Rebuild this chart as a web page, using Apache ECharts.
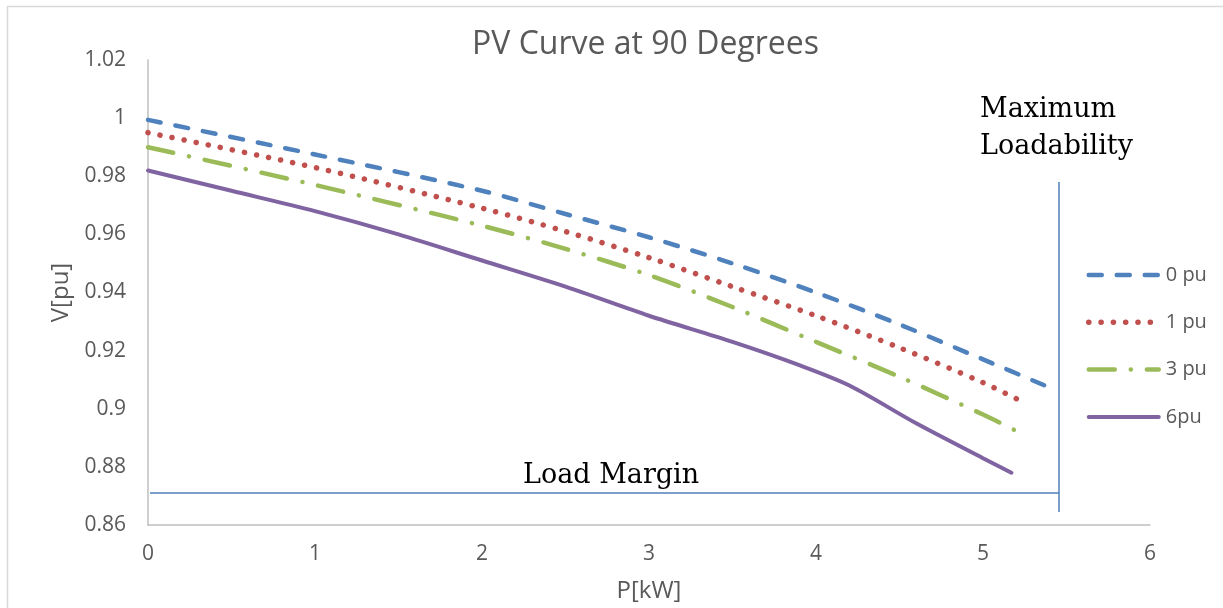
<!DOCTYPE html>
<html>
<head>
<meta charset="utf-8">
<script src="https://cdn.jsdelivr.net/npm/echarts@6/dist/echarts.min.js"></script>
<style>
html,body{margin:0;padding:0;background:#fff;}
#chart{width:1223px;height:608px;}
</style>
</head>
<body>
<div id="chart"></div>
<script>
// ---- data ----
const seriesNames = ['0 pu', '1 pu', '3 pu', '6pu'];

const x0 = [0, 1, 2, 2.5, 3, 3.5, 4, 4.5, 5, 5.37];
const v0 = [0.9994, 0.9875, 0.975, 0.967, 0.959, 0.950, 0.940, 0.929, 0.917, 0.908];

const x1 = [0, 1, 2, 2.5, 3, 3.5, 4, 4.5, 5, 5.25];
const v1 = [0.995, 0.983, 0.969, 0.961, 0.952, 0.942, 0.932, 0.921, 0.909, 0.902];

const x3 = [0, 1, 2, 2.5, 3, 3.5, 4, 4.5, 5, 5.23];
const v3 = [0.990, 0.977, 0.963, 0.955, 0.946, 0.935, 0.923, 0.911, 0.898, 0.8915];

const x6 = [0, 0.5, 1, 1.5, 2, 2.5, 3, 3.5, 3.9, 4.2, 4.6, 5, 5.17];
const v6 = [0.982, 0.975, 0.968, 0.960, 0.951, 0.942, 0.932, 0.923, 0.915, 0.908, 0.895, 0.883, 0.878];

// annotation lines
const marginX = [0.012, 5.455];
const marginY = [0.871, 0.871];
const maxLoadX = [5.455, 5.455];
const maxLoadY = [0.8645, 0.978];

const xTicks = { min: 0, max: 6, interval: 1 };
const yTicks = { min: 0.86, max: 1.02, interval: 0.02 };

function pairs(xs, ys) { return xs.map((x, i) => [x, ys[i]]); }

const labelColor = '#595959';
const sans = 'Open Sans';
const colors = ['#4F81BD', '#C0504D', '#9BBB59', '#8064A2'];
const styles = [
  { color: colors[0], width: 4.5, type: [13, 15], cap: 'round' },
  { color: colors[1], width: 5.5, type: [0.1, 12.2], cap: 'round' },
  { color: colors[2], width: 4.5, type: [26, 16, 0.1, 16], cap: 'round' },
  { color: colors[3], width: 4, type: 'solid', cap: 'round' }
];
const seriesData = [pairs(x0, v0), pairs(x1, v1), pairs(x3, v3), pairs(x6, v6)];

const chart = echarts.init(document.getElementById('chart'), null, { renderer: 'canvas' });
chart.setOption({
  animation: false,
  backgroundColor: '#fff',
  title: {
    text: 'PV Curve at 90 Degrees',
    left: 472, top: 29, padding: 0,
    textStyle: { fontFamily: sans, fontSize: 32, fontWeight: 'normal', color: labelColor }
  },
  grid: { left: 148, right: 73, top: 60, bottom: 82, containLabel: false },
  legend: {
    orient: 'vertical', left: 1086, top: 265,
    itemWidth: 70, itemHeight: 16, itemGap: 27.3,
    padding: 0,
    itemStyle: { opacity: 0 },
    data: seriesNames.map((n, i) => ({ name: n, lineStyle: styles[i], itemStyle: { opacity: 0 } })),
    textStyle: { fontFamily: sans, fontSize: 20, color: labelColor, padding: [0, 0, 0, 2] }
  },
  xAxis: {
    type: 'value', min: xTicks.min, max: xTicks.max, interval: xTicks.interval,
    name: 'P[kW]', nameLocation: 'middle', nameGap: 54,
    nameTextStyle: { fontFamily: sans, fontSize: 24, color: labelColor },
    axisLine: { show: true, lineStyle: { color: '#BFBFBF', width: 1.5 } },
    axisTick: { show: false },
    splitLine: { show: false },
    axisLabel: { margin: 19, fontFamily: sans, fontSize: 21, color: labelColor }
  },
  yAxis: {
    type: 'value', min: yTicks.min, max: yTicks.max, interval: yTicks.interval,
    name: 'V[pu]', nameLocation: 'middle', nameGap: 74,
    nameTextStyle: { fontFamily: sans, fontSize: 24, color: labelColor },
    axisLine: { show: true, lineStyle: { color: '#BFBFBF', width: 1.5 } },
    axisTick: { show: false },
    splitLine: { show: false },
    axisLabel: { margin: 22, fontFamily: sans, fontSize: 21, color: labelColor,
      formatter: v => String(parseFloat(v.toFixed(2))) }
  },
  series: seriesNames.map((n, i) => ({
    name: n, type: 'line', data: seriesData[i], smooth: 0.3, symbol: 'none',
    lineStyle: styles[i], itemStyle: { color: colors[i] }
  })).concat([
    { name: 'Load Margin', type: 'line', data: pairs(marginX, marginY), symbol: 'none', silent: true,
      lineStyle: { color: '#4F81BD', width: 1.5 } },
    { name: 'Maximum Loadability', type: 'line', data: pairs(maxLoadX, maxLoadY), symbol: 'none', silent: true,
      lineStyle: { color: '#4F81BD', width: 1.5 } }
  ]),
  graphic: [
    { type: 'line', shape: { x1: 7, y1: 6.5, x2: 1223, y2: 6.5 }, style: { stroke: '#D9D9D9', lineWidth: 1.5 }, silent: true },
    { type: 'line', shape: { x1: 7.5, y1: 6, x2: 7.5, y2: 608 }, style: { stroke: '#D9D9D9', lineWidth: 1.5 }, silent: true },
    { type: 'text', left: 980, top: 96, style: { text: 'Maximum', font: '27px "DejaVu Serif"', fill: '#000' } },
    { type: 'text', left: 980, top: 133, style: { text: 'Loadability', font: '27px "DejaVu Serif"', fill: '#000' } },
    { type: 'text', left: 523, top: 462, style: { text: 'Load Margin', font: '27px "DejaVu Serif"', fill: '#000' } }
  ]
});
</script>
</body>
</html>
